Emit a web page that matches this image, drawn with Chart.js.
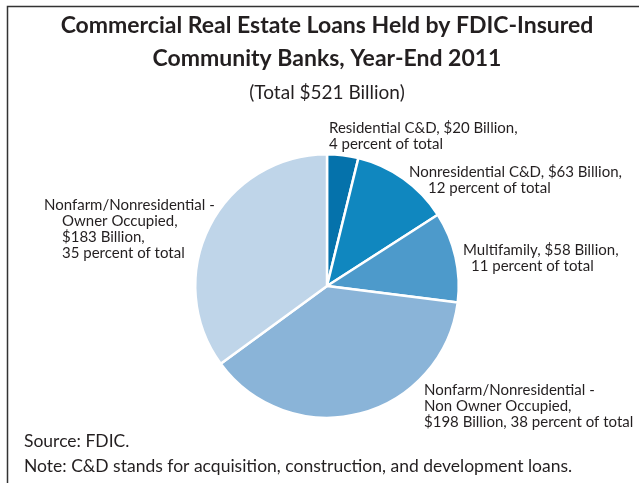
<!DOCTYPE html>
<html>
<head>
<meta charset="utf-8">
<script src="https://cdn.jsdelivr.net/npm/chart.js@4.4.0/dist/chart.umd.min.js"></script>
<style>
  html, body { margin: 0; padding: 0; background: #fff; }
  #wrap { position: relative; width: 639px; height: 483px; }
</style>
</head>
<body>
<div id="wrap"><canvas id="pie" width="639" height="483"></canvas></div>
<script>
    "use strict";

    // Data
    var categories = [
        "Residential C&D",
        "Nonresidential C&D",
        "Multifamily",
        "Nonfarm/Nonresidential - Non Owner Occupied",
        "Nonfarm/Nonresidential - Owner Occupied"
    ];
    var loansBillions = [20, 63, 58, 198, 183];
    var percentOfTotal = [4, 12, 11, 38, 35];
    var labelLines = [
        ["Residential C&D, $20 Billion,", "4 percent of total"],
        ["Nonresidential C&D, $63 Billion,", "12 percent of total"],
        ["Multifamily, $58 Billion,", "11 percent of total"],
        ["Nonfarm/Nonresidential -", "Non Owner Occupied,", "$198 Billion, 38 percent of total"],
        ["Nonfarm/Nonresidential -", "Owner Occupied,", "$183 Billion,", "35 percent of total"]
    ];
    var titleLines = ["Commercial Real Estate Loans Held by FDIC-Insured", "Community Banks, Year-End 2011"];
    var subtitle = "(Total $521 Billion)";
    var footnotes = ["Source: FDIC.", "Note: C&D stands for acquisition, construction, and development loans."];

    var sliceColors = ["#0572ab", "#1087bf", "#4d9acb", "#8ab4d8", "#bfd5e9"];

    // label placement, offsets from the pie centre (dx per line, dy of first line)
    var labelPlace = [
        { dx: [2, 2], dy: -158 },
        { dx: [82, 101], dy: -114 },
        { dx: [136, 144], dy: -36 },
        { dx: [97, 97, 97], dy: 104 },
        { dx: [-283, -265, -265, -265], dy: -81 }
    ];

    var FONT = "Lato, 'Open Sans', sans-serif";

    var textPlugin = {
        id: "textPlugin",
        afterDraw: function (chart) {
            var ctx = chart.ctx;
            var arc = chart.getDatasetMeta(0).data[0];
            var cx = arc.x, cy = arc.y;
            ctx.save();

            // frame
            ctx.strokeStyle = "#333";
            ctx.lineWidth = 1.5;
            ctx.beginPath();
            ctx.moveTo(7.5, 483);
            ctx.lineTo(7.5, 6.5);
            ctx.lineTo(639, 6.5);
            ctx.stroke();

            // titles
            ctx.fillStyle = "#231f20";
            ctx.textAlign = "center";
            ctx.textBaseline = "middle";
            ctx.font = "bold 23px " + FONT;
            ctx.fillText(titleLines[0], 327, 26);
            ctx.fillText(titleLines[1], 327, 59);
            ctx.font = "19px " + FONT;
            ctx.fillText(subtitle, 327, 93);

            // slice labels
            ctx.textAlign = "left";
            ctx.font = "15px " + FONT;
            labelLines.forEach(function (lines, i) {
                var p = labelPlace[i];
                lines.forEach(function (line, j) {
                    ctx.fillText(line, cx + p.dx[j], cy + p.dy + j * 16);
                });
            });

            // footnotes
            ctx.font = "17.5px " + FONT;
            ctx.fillText(footnotes[0], 24, 441);
            ctx.fillText(footnotes[1], 24, 466);

            ctx.restore();
        }
    };

    var ctx1 = document.getElementById("pie").getContext("2d");
    var myChart = new Chart(ctx1, {
        type: "pie",
        data: {
            labels: categories,
            datasets: [{
                label: "Loans ($ Billion)",
                data: loansBillions,
                backgroundColor: sliceColors,
                borderColor: "#ffffff",
                borderWidth: 2.5
            }]
        },
        options: {
            responsive: false,
            animation: false,
            events: [],
            layout: {
                padding: { top: 153, bottom: 64, left: 194, right: 179 }
            },
            plugins: {
                legend: { display: false },
                title: { display: false },
                tooltip: { enabled: false }
            }
        },
        plugins: [textPlugin]
    });
</script>
</body>
</html>
